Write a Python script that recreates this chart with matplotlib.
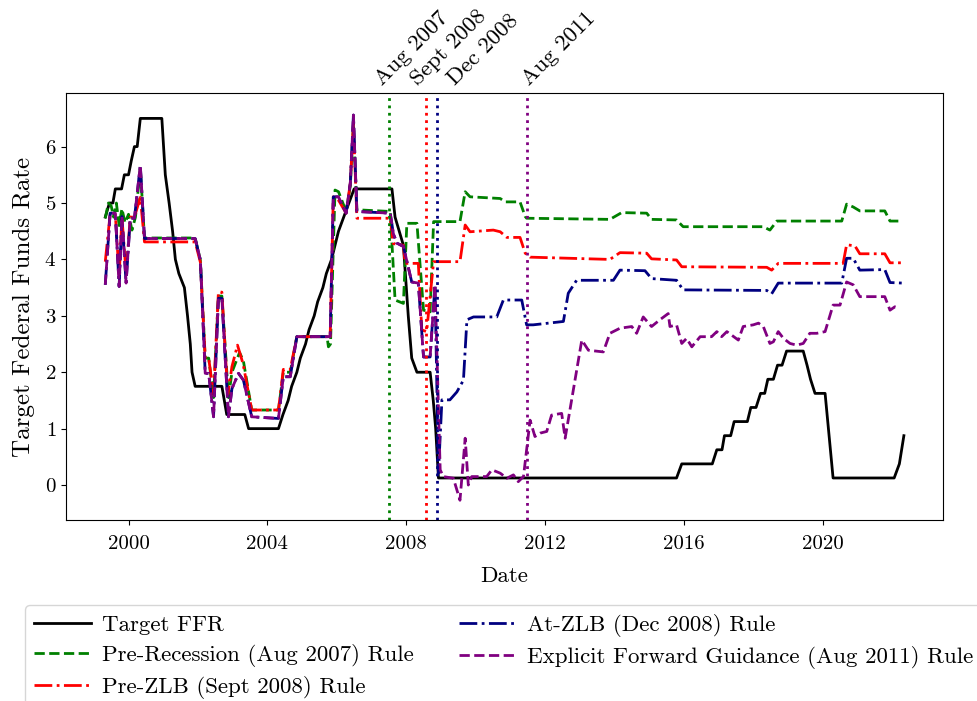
import numpy as np
import matplotlib
matplotlib.use('Agg')
import matplotlib.pyplot as plt

plt.rcParams['font.family'] = 'serif'
plt.rcParams['font.serif'] = ['cmr10']
plt.rcParams['mathtext.fontset'] = 'cm'
plt.rcParams['axes.formatter.use_mathtext'] = True
plt.rcParams['font.size'] = 15

# Target FFR (decimal year, rate)
ffr_dates = [1999.33, 1999.45, 1999.55, 1999.62, 1999.80, 1999.88, 2000.00, 2000.08, 2000.17,
             2000.25, 2000.34, 2000.96, 2001.06, 2001.17, 2001.27, 2001.35, 2001.45, 2001.61,
             2001.70, 2001.78, 2001.83, 2001.92, 2002.69, 2002.83, 2003.35, 2003.46, 2004.32,
             2004.45, 2004.60, 2004.70, 2004.85, 2004.95, 2005.10, 2005.20, 2005.35, 2005.45,
             2005.60, 2005.70, 2005.85, 2005.95, 2006.05, 2006.20, 2006.35, 2006.50, 2007.59,
             2007.68, 2007.80, 2007.92, 2008.06, 2008.16, 2008.31, 2008.69, 2008.78, 2008.85,
             2008.93, 2015.79, 2015.94, 2016.82, 2016.95, 2017.10, 2017.17, 2017.35, 2017.45,
             2017.83, 2017.93, 2018.08, 2018.21, 2018.33, 2018.42, 2018.58, 2018.70, 2018.83,
             2018.96, 2019.44, 2019.55, 2019.65, 2019.78, 2020.07, 2020.30, 2022.06, 2022.21,
             2022.34]
ffr_vals = [4.75, 5.0, 5.0, 5.25, 5.25, 5.5, 5.5, 5.75, 6.0,
            6.0, 6.5, 6.5, 5.5, 5.0, 4.5, 4.0, 3.75, 3.5,
            3.0, 2.5, 2.0, 1.75, 1.75, 1.25, 1.25, 1.0, 1.0,
            1.25, 1.5, 1.75, 2.0, 2.25, 2.5, 2.75, 3.0, 3.25,
            3.5, 3.75, 4.0, 4.25, 4.5, 4.75, 5.0, 5.25, 5.25,
            4.75, 4.5, 4.25, 3.0, 2.25, 2.0, 2.0, 1.5, 1.0,
            0.125, 0.125, 0.375, 0.375, 0.625, 0.625, 0.875, 0.875, 1.125,
            1.125, 1.375, 1.375, 1.625, 1.625, 1.875, 1.875, 2.125, 2.125,
            2.375, 2.375, 2.125, 1.875, 1.625, 1.625, 0.125, 0.125, 0.375,
            0.875]

# Pre-Recession (Aug 2007) rule
pre_rec_dates = [1999.33, 1999.42, 1999.50, 1999.57, 1999.65, 1999.73, 1999.81, 1999.90, 2000.00,
                 2000.10, 2000.20, 2000.34, 2000.46, 2001.92, 2002.07, 2002.21, 2002.31, 2002.45,
                 2002.59, 2002.69, 2002.88, 2002.98, 2003.20, 2003.31, 2003.55, 2004.32, 2004.46,
                 2004.66, 2004.85, 2005.72, 2005.76, 2005.82, 2005.95, 2006.05, 2006.27, 2006.39,
                 2006.48, 2006.58, 2007.54, 2007.68, 2007.92, 2008.02, 2008.31, 2008.50, 2008.69,
                 2008.79, 2009.55, 2009.70, 2009.84, 2010.71, 2010.85, 2011.28, 2011.43, 2011.47,
                 2013.87, 2014.21, 2014.93, 2015.07, 2015.79, 2015.98, 2018.29, 2018.48, 2018.68,
                 2020.55, 2020.69, 2020.88, 2021.07, 2021.79, 2021.94, 2022.22]
pre_rec_vals = [4.73, 5.0, 4.95, 4.75, 5.0, 4.6, 4.9, 4.65, 4.8,
                4.52, 4.75, 5.62, 4.38, 4.38, 3.99, 2.25, 2.25, 1.55,
                3.35, 3.35, 1.55, 2.0, 2.35, 2.2, 1.33, 1.33, 2.0,
                2.0, 2.63, 2.63, 2.45, 2.5, 5.23, 5.2, 4.85, 5.3,
                6.4, 4.88, 4.85, 3.28, 3.22, 4.64, 4.64, 3.10, 3.07,
                4.67, 4.67, 5.20, 5.11, 5.08, 5.02, 5.02, 4.76, 4.73,
                4.71, 4.83, 4.82, 4.71, 4.70, 4.58, 4.58, 4.52, 4.68,
                4.68, 4.98, 4.93, 4.86, 4.86, 4.68, 4.68]

# Pre-ZLB (Sept 2008) rule
pre_zlb_dates = [1999.33, 1999.47, 1999.62, 1999.73, 1999.81, 1999.93, 2000.05, 2000.17, 2000.34,
                 2000.46, 2001.92, 2002.07, 2002.21, 2002.31, 2002.45, 2002.59, 2002.69, 2002.86,
                 2002.98, 2003.14, 2003.30, 2003.55, 2004.32, 2004.46, 2004.66, 2004.85, 2005.81,
                 2005.90, 2006.05, 2006.27, 2006.39, 2006.48, 2006.58, 2007.54, 2007.63, 2007.92,
                 2007.97, 2008.35, 2008.45, 2008.59, 2008.79, 2009.55, 2009.70, 2009.84, 2010.51,
                 2010.71, 2010.90, 2011.28, 2011.43, 2011.57, 2013.87, 2014.16, 2014.93, 2015.07,
                 2015.79, 2015.94, 2018.39, 2018.53, 2018.72, 2020.59, 2020.69, 2020.93, 2021.07,
                 2021.79, 2021.94, 2022.32]
pre_zlb_vals = [3.96, 4.8, 4.8, 3.7, 4.75, 3.75, 4.75, 4.75, 5.1,
                4.31, 4.31, 3.95, 2.25, 2.25, 1.6, 3.42, 3.42, 1.6,
                2.1, 2.48, 2.15, 1.33, 1.33, 2.05, 2.05, 2.63, 2.63,
                5.11, 5.05, 4.82, 5.35, 6.4, 4.73, 4.73, 4.28, 4.25,
                3.93, 3.93, 2.75, 2.72, 3.96, 3.96, 4.61, 4.49, 4.52,
                4.49, 4.39, 4.39, 4.11, 4.04, 4.00, 4.12, 4.11, 4.01,
                3.99, 3.87, 3.86, 3.81, 3.93, 3.93, 4.26, 4.24, 4.10,
                4.10, 3.94, 3.94]

# path shared by the At-ZLB and Forward Guidance rules before Dec 2008
shared_dates = [1999.33, 1999.47, 1999.62, 1999.73, 1999.81, 1999.93, 2000.05, 2000.17, 2000.34,
                2000.46, 2001.92, 2002.07, 2002.21, 2002.31, 2002.45, 2002.59, 2002.69, 2002.88,
                2002.98, 2003.17, 2003.31, 2003.55, 2004.32, 2004.46, 2004.66, 2004.85, 2005.81,
                2005.90, 2006.05, 2006.27, 2006.39, 2006.48, 2006.58, 2007.54, 2007.63, 2007.73,
                2007.92, 2008.16, 2008.35, 2008.50, 2008.69, 2008.83]
shared_vals = [3.55, 4.82, 4.82, 3.52, 4.76, 3.58, 4.73, 4.73, 5.67,
               4.37, 4.37, 3.99, 1.98, 1.98, 1.21, 3.31, 3.31, 1.21,
               1.71, 1.98, 1.86, 1.21, 1.18, 1.92, 1.92, 2.63, 2.63,
               5.11, 5.11, 4.82, 5.35, 6.56, 4.85, 4.82, 4.46, 4.29,
               4.23, 3.60, 3.58, 2.27, 2.27, 3.55]

# At-ZLB (Dec 2008) rule after Dec 2008
zlb_dates = [2008.93, 2009.03, 2009.26, 2009.46, 2009.65, 2009.75, 2009.94, 2010.61, 2010.80,
             2011.33, 2011.47, 2011.66, 2012.53, 2012.67, 2012.91, 2013.97, 2014.16, 2014.88,
             2015.07, 2015.79, 2015.98, 2018.39, 2018.53, 2018.72, 2020.55, 2020.69, 2020.88,
             2021.07, 2021.79, 2021.94, 2022.32]
zlb_vals = [0.21, 1.51, 1.51, 1.65, 1.86, 2.93, 2.98, 2.98, 3.28,
            3.28, 2.84, 2.84, 2.90, 3.40, 3.63, 3.63, 3.81, 3.80,
            3.66, 3.63, 3.46, 3.45, 3.39, 3.58, 3.58, 4.02, 4.02,
            3.81, 3.82, 3.59, 3.58]

# Explicit Forward Guidance (Aug 2011) rule after Dec 2008
efg_dates = [2008.98, 2009.07, 2009.36, 2009.55, 2009.70, 2009.79, 2009.89, 2010.32, 2010.47,
             2010.71, 2010.90, 2011.09, 2011.23, 2011.38, 2011.57, 2011.71, 2011.86, 2012.05,
             2012.19, 2012.48, 2012.58, 2013.06, 2013.25, 2013.68, 2013.87, 2014.16, 2014.50,
             2014.64, 2014.83, 2015.07, 2015.31, 2015.55, 2015.60, 2015.79, 2015.94, 2016.08,
             2016.23, 2016.47, 2016.80, 2016.95, 2017.09, 2017.24, 2017.57, 2017.71, 2018.00,
             2018.15, 2018.29, 2018.48, 2018.58, 2018.72, 2018.87, 2019.06, 2019.25, 2019.44,
             2019.63, 2019.83, 2020.07, 2020.30, 2020.50, 2020.69, 2020.88, 2021.07, 2021.79,
             2021.94, 2022.08, 2022.22]
efg_vals = [0.27, 0.15, 0.12, -0.27, 0.83, 0.0, 0.15, 0.15, 0.27,
            0.21, 0.12, 0.18, 0.06, 0.15, 1.15, 0.86, 0.92, 0.95,
            1.24, 1.27, 0.83, 2.57, 2.39, 2.36, 2.69, 2.78, 2.81,
            2.69, 2.98, 2.81, 2.93, 3.04, 2.81, 2.84, 2.51, 2.60,
            2.45, 2.63, 2.63, 2.72, 2.63, 2.72, 2.57, 2.81, 2.84,
            2.87, 2.81, 2.51, 2.54, 2.72, 2.60, 2.51, 2.48, 2.51,
            2.69, 2.69, 2.72, 3.19, 3.19, 3.60, 3.55, 3.34, 3.34,
            3.10, 3.16, 3.13]

# policy dates marked with vertical lines
event_dates = [2007.50, 2008.56, 2008.89, 2011.48]
event_colors = ['green', 'red', 'navy', 'purple']
event_labels = ['Aug 2007', 'Sept 2008', 'Dec 2008', 'Aug 2011']
event_label_x = [2007.30, 2008.36, 2009.40, 2011.55]

year_ticks = [2000, 2004, 2008, 2012, 2016, 2020]

fig = plt.figure(figsize=(9.77, 7.01), dpi=100)
ax = fig.add_axes([0.0676, 0.2582, 0.8977, 0.6091])

ax.plot(ffr_dates, ffr_vals, color='black', lw=2, label='Target FFR')
ax.plot(pre_rec_dates, pre_rec_vals, color='green', ls='--', lw=2,
        label='Pre-Recession (Aug 2007) Rule')
ax.plot(pre_zlb_dates, pre_zlb_vals, color='red', ls='-.', lw=2,
        label='Pre-ZLB (Sept 2008) Rule')
ax.plot(shared_dates + zlb_dates, shared_vals + zlb_vals, color='navy', ls='-.', lw=2,
        label='At-ZLB (Dec 2008) Rule')
ax.plot(shared_dates + efg_dates, shared_vals + efg_vals, color='purple', ls='--', lw=2,
        label='Explicit Forward Guidance (Aug 2011) Rule')

for d, c in zip(event_dates, event_colors):
    ax.axvline(d, color=c, ls=':', lw=2)

trans = ax.get_xaxis_transform()
for x, lab in zip(event_label_x, event_labels):
    ax.text(x, 1.016, lab, transform=trans, rotation=45, rotation_mode='anchor',
            ha='left', va='baseline', fontsize=16.5)

ax.set_xlim(1998.2, 2023.47)
ax.set_ylim(-0.62, 6.95)
ax.set_xticks(year_ticks)
ax.set_xticklabels([str(y) for y in year_ticks])
ax.set_yticks(range(0, 7))
ax.tick_params(axis='x', pad=7)
ax.set_xlabel('Date', fontsize=16.5, labelpad=10)
ax.set_ylabel('Target Federal Funds Rate', fontsize=18, labelpad=7)

ax.legend(loc='upper left', bbox_to_anchor=(25 / 977, 1 - 605 / 701),
          bbox_transform=fig.transFigure, borderaxespad=0, ncol=2, fontsize=16.5,
          handlelength=2.5, handletextpad=0.45, labelspacing=0.38)

fig.savefig('out.png', dpi=100)
